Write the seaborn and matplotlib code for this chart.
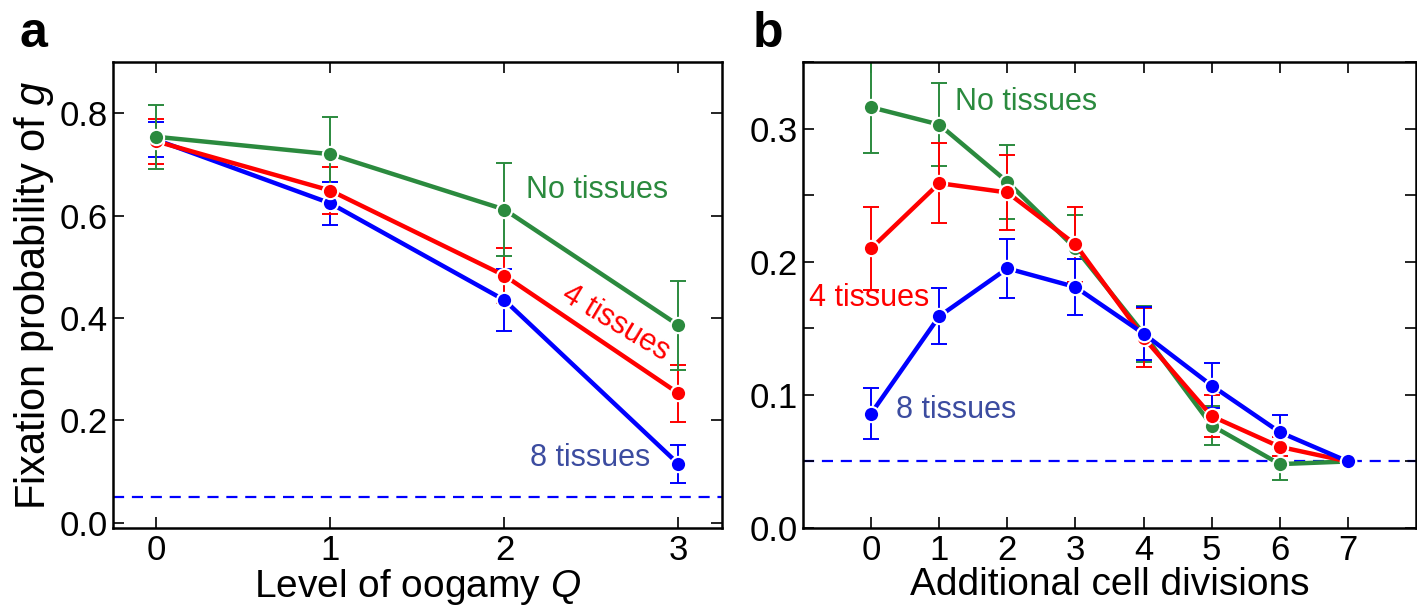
import numpy as np
import pandas as pd
import matplotlib
matplotlib.use("Agg")
import matplotlib.pyplot as plt
import seaborn as sns
from matplotlib.ticker import MultipleLocator

# panel a: fixation probability vs level of oogamy
q_levels = [0, 1, 2, 3]
a_none = [0.754, 0.720, 0.612, 0.386]
a_none_err = [0.062, 0.073, 0.090, 0.087]
a_four = [0.745, 0.649, 0.483, 0.253]
a_four_err = [0.044, 0.046, 0.054, 0.055]
a_eight = [0.748, 0.624, 0.435, 0.115]
a_eight_err = [0.034, 0.042, 0.060, 0.037]

# panel b: fixation probability vs additional cell divisions
divisions = [0, 1, 2, 3, 4, 5, 6, 7]
b_none = [0.316, 0.303, 0.260, 0.210, 0.146, 0.077, 0.048, 0.050]
b_none_err = [0.034, 0.031, 0.028, 0.025, 0.021, 0.015, 0.012, 0.0]
b_four = [0.210, 0.259, 0.252, 0.213, 0.143, 0.084, 0.061, 0.050]
b_four_err = [0.031, 0.030, 0.028, 0.028, 0.022, 0.016, 0.007, 0.0]
b_eight = [0.086, 0.159, 0.195, 0.181, 0.146, 0.107, 0.072, 0.050]
b_eight_err = [0.019, 0.021, 0.022, 0.021, 0.020, 0.017, 0.013, 0.0]

baseline = 0.05
GREEN, RED, BLUE = "#2b8a3e", "#ff0000", "#0000ff"
LABEL_BLUE = "#3c4ca0"

sns.set_style("ticks")
plt.rcParams["font.family"] = ["Liberation Sans Narrow", "Liberation Sans", "DejaVu Sans"]
plt.rcParams["mathtext.fontset"] = "custom"
plt.rcParams["mathtext.it"] = "Liberation Sans:italic"
plt.rcParams["mathtext.rm"] = "Liberation Sans"
for k in ["text.color", "axes.labelcolor", "xtick.color", "ytick.color", "axes.edgecolor"]:
    plt.rcParams[k] = "black"


def long_df(x, series):
    rows = []
    for name, (vals, errs) in series.items():
        for xi, v, e in zip(x, vals, errs):
            rows.append({"x": xi, "y": v, "err": e, "group": name})
    return pd.DataFrame(rows)


def draw(ax, df, order, palette):
    for g in order:
        d = df[df["group"] == g]
        ax.errorbar(d["x"], d["y"], yerr=d["err"], fmt="none", ecolor=palette[g],
                    elinewidth=1.4, capsize=6, capthick=1.4, zorder=1)
    for i, g in enumerate(order):
        d = df[df["group"] == g]
        sns.lineplot(data=d, x="x", y="y", ax=ax, color=palette[g], lw=3.2,
                     marker="o", markersize=11, markeredgecolor="white",
                     markeredgewidth=1.5, zorder=2 + i, legend=False)


def style(ax):
    ax.tick_params(direction="in", top=True, right=True, labelsize=25, length=8, width=1.2,
                   pad=4)
    ax.tick_params(which="minor", direction="in", right=True, length=8, width=1.2)
    for s in ax.spines.values():
        s.set_linewidth(1.8)


fig = plt.figure(figsize=(14.17, 6.11), dpi=100)
ax_a = fig.add_axes([0.0797, 0.1358, 0.4298, 0.7627])
ax_b = fig.add_axes([0.5667, 0.1358, 0.4326, 0.7627])

pal = {"none": GREEN, "four": RED, "eight": BLUE}

df_a = long_df(q_levels, {"none": (a_none, a_none_err), "four": (a_four, a_four_err),
                          "eight": (a_eight, a_eight_err)})
draw(ax_a, df_a, ["eight", "four", "none"], pal)
ax_a.axhline(baseline, color=BLUE, lw=1.6, ls=(0, (5, 3.5)), zorder=0)
ax_a.set_xlim(-0.25, 3.25)
ax_a.set_ylim(-0.01, 0.9)
ax_a.set_xticks(q_levels)
ax_a.set_yticks([0.0, 0.2, 0.4, 0.6, 0.8])
ax_a.set_yticklabels(["0.0", "0.2", "0.4", "0.6", "0.8"])
ax_a.set_xlabel(r"Level of oogamy $Q$", fontsize=28, labelpad=0)
ax_a.set_ylabel(r"Fixation probability of $g$", fontsize=30, labelpad=2)
style(ax_a)
ax_a.text(2.53, 0.65, "No tissues", color=GREEN, fontsize=22, ha="center", va="center")
ax_a.text(2.64, 0.39, "4 tissues", color=RED, fontsize=22, ha="center", va="center",
          rotation=-31)
ax_a.text(2.49, 0.127, "8 tissues", color=LABEL_BLUE, fontsize=22, ha="center", va="center")

df_b = long_df(divisions, {"none": (b_none, b_none_err), "four": (b_four, b_four_err),
                           "eight": (b_eight, b_eight_err)})
draw(ax_b, df_b, ["none", "four", "eight"], pal)
ax_b.axhline(baseline, color=BLUE, lw=1.6, ls=(0, (5, 3.5)), zorder=0)
ax_b.set_xlim(-1, 8)
ax_b.set_ylim(0, 0.35)
ax_b.set_xticks(divisions)
ax_b.set_yticks([0.0, 0.1, 0.2, 0.3])
ax_b.set_yticklabels(["0.0", "0.1", "0.2", "0.3"])
ax_b.yaxis.set_minor_locator(MultipleLocator(0.05))
ax_b.set_xlabel("Additional cell divisions", fontsize=28, labelpad=0)
ax_b.set_ylabel("")
style(ax_b)
ax_b.text(1.23, 0.32, "No tissues", color=GREEN, fontsize=22, ha="left", va="center")
ax_b.text(-0.03, 0.1725, "4 tissues", color=RED, fontsize=22, ha="center", va="center")
ax_b.text(0.37, 0.0885, "8 tissues", color=LABEL_BLUE, fontsize=22, ha="left", va="center")

fig.text(0.014, 0.945, "a", fontsize=36, fontweight="bold", va="center")
fig.text(0.531, 0.945, "b", fontsize=36, fontweight="bold", va="center")

fig.savefig("out.png", dpi=100)
